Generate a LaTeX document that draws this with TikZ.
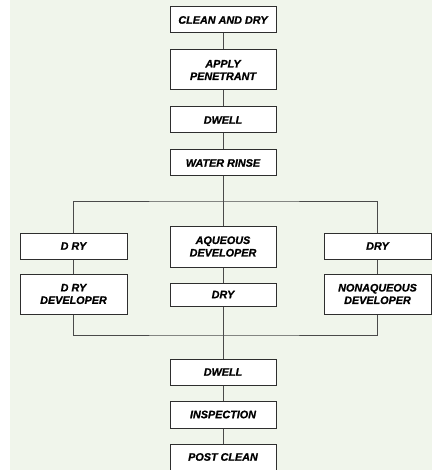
\documentclass[tikz,border=0pt]{standalone}
\usepackage{fontspec}
\setmainfont{Liberation Sans}[BoldItalicFeatures={FakeBold=0.9}]
\definecolor{bggreen}{HTML}{F0F5EB}
\definecolor{edge}{HTML}{2E2E2E}
\definecolor{wire}{HTML}{4A4A4A}
\tikzset{
  stepbox/.style={draw=edge, fill=white, line width=1pt, rectangle, inner sep=0pt,
    align=center, font=\fontsize{10.8}{12.5}\selectfont\bfseries\itshape},
  midbox/.style={stepbox, minimum width=106pt},
  sidebox/.style={stepbox, minimum width=107pt},
  wireline/.style={draw=wire, line width=0.8pt}
}
\begin{document}
\begin{tikzpicture}[x=1pt,y=-1pt]
\useasboundingbox (0,0) rectangle (432,470);
\fill[bggreen] (10,0) rectangle (432,470);
% main column
\node[midbox, minimum height=26pt] (clean) at (223,20) {CLEAN AND DRY};
\node[midbox, minimum height=40pt] (apply) at (223,70) {APPLY\\PENETRANT};
\node[midbox, minimum height=26pt] (dwell) at (223,120) {DWELL};
\node[midbox, minimum height=26pt] (rinse) at (223,163) {WATER RINSE};
% branches
\coordinate (split) at (223,201);
\coordinate (merge) at (223,335);
\node[sidebox, minimum height=26pt] (dryL) at (73.5,246) {D RY};
\node[sidebox, minimum height=40pt] (devL) at (73.5,294) {D RY\\DEVELOPER};
\node[midbox, minimum height=41pt] (aq) at (223,246.5) {AQUEOUS\\DEVELOPER};
\node[midbox, minimum height=23pt] (dryC) at (223,294.5) {DRY};
\node[sidebox, minimum height=26pt] (dryR) at (377.5,246) {DRY};
\node[sidebox, minimum height=40pt] (nonaq) at (377.5,294) {NONAQUEOUS\\DEVELOPER};
% lower column
\node[midbox, minimum height=26pt] (dwell2) at (223,372) {DWELL};
\node[midbox, minimum height=27pt] (insp) at (223,414.5) {INSPECTION};
\node[midbox, minimum height=26pt] (post) at (223,457) {POST CLEAN};
% connectors
\draw[wireline] (clean.south) -- (apply.north);
\draw[wireline] (apply.south) -- (dwell.north);
\draw[wireline] (dwell.south) -- (rinse.north);
\draw[wireline] (rinse.south) -- (aq.north);
\draw[wireline] (dryL.north) |- (split) -| (dryR.north);
\draw[wireline] (dryL.south) -- (devL.north);
\draw[wireline] (aq.south) -- (dryC.north);
\draw[wireline] (dryR.south) -- (nonaq.north);
\draw[wireline] (devL.south) |- (merge) -| (nonaq.south);
\draw[wireline] (dryC.south) -- (dwell2.north);
\draw[wireline] (dwell2.south) -- (insp.north);
\draw[wireline] (insp.south) -- (post.north);
\end{tikzpicture}
\end{document}
